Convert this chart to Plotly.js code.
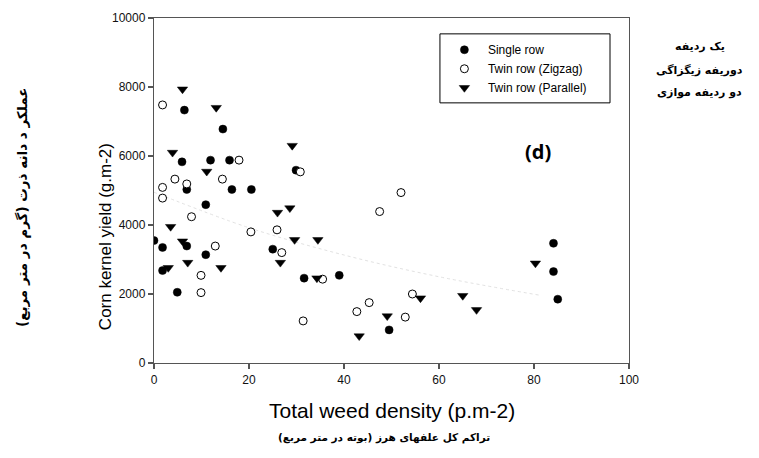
<!DOCTYPE html>
<html>
<head>
<meta charset="utf-8">
<script src="https://cdn.plot.ly/plotly-3.0.1.min.js"></script>
<style>html,body{margin:0;padding:0;background:#fff;}#chart{width:759px;height:458px;}</style>
</head>
<body>
<div id="chart"></div>
<script>
// Single row (filled circles)
const singleX = [0, 1.8, 1.8, 4.9, 5.9, 6.4, 6.9, 6.9, 10.9, 10.9, 11.9, 14.5, 15.9, 16.4, 20.5, 25.0, 29.9, 31.6, 39.0, 49.5, 84.1, 84.1, 85.0];
const singleY = [3550, 3350, 2680, 2050, 5830, 7330, 5030, 3390, 4590, 3140, 5880, 6780, 5880, 5030, 5030, 3300, 5590, 2460, 2540, 960, 3470, 2650, 1850];
// Twin row (Zigzag) (open circles)
const zigzagX = [1.8, 1.8, 1.8, 4.4, 6.9, 7.9, 9.9, 9.9, 12.9, 14.4, 17.9, 20.4, 25.9, 26.9, 30.8, 31.4, 35.5, 42.7, 45.3, 47.5, 52.0, 52.9, 54.4];
const zigzagY = [7480, 5090, 4780, 5330, 5190, 4240, 2540, 2040, 3390, 5330, 5880, 3800, 3860, 3200, 5540, 1220, 2430, 1490, 1750, 4390, 4940, 1330, 2000];
// Twin row (Parallel) (down triangles)
const parallelX = [6.0, 13.1, 3.9, 11.1, 29.1, 3.5, 6.0, 3.0, 7.1, 14.1, 26.0, 28.6, 26.6, 29.6, 34.3, 34.5, 43.2, 49.1, 56.1, 65.0, 67.9, 80.3];
const parallelY = [7935, 7400, 6100, 5550, 6300, 3950, 3530, 2760, 2910, 2760, 4360, 4490, 2910, 3570, 2460, 3570, 780, 1360, 1880, 1950, 1540, 2890];
// Faint trend line
const trendX = [0, 20, 40, 60, 81];
const trendY = [4950, 3920, 3130, 2500, 1970];

const seriesNames = ['Single row', 'Twin row (Zigzag)', 'Twin row (Parallel)'];
const xTicks = [0, 20, 40, 60, 80, 100];
const yTicks = [0, 2000, 4000, 6000, 8000, 10000];

const txtFont = 'Liberation Sans, Arial, sans-serif';
const faFont = 'DejaVu Sans, sans-serif';

const traces = [
  {x: trendX, y: trendY, mode: 'lines', type: 'scatter', showlegend: false, hoverinfo: 'skip',
   line: {color: '#e2e2e2', width: 1, dash: 'dot', shape: 'spline'}},
  {x: singleX, y: singleY, mode: 'markers', type: 'scatter', name: seriesNames[0],
   marker: {symbol: 'circle', size: 8, color: '#000', line: {color: '#000', width: 0.5}}},
  {x: zigzagX, y: zigzagY, mode: 'markers', type: 'scatter', name: seriesNames[1],
   marker: {symbol: 'circle', size: 8, color: '#fff', line: {color: '#000', width: 1}}},
  {x: parallelX, y: parallelY, mode: 'markers', type: 'scatter', name: seriesNames[2],
   marker: {symbol: 'triangle-down', size: 9, color: '#000', line: {color: '#000', width: 0.5}}}
];

const axisCommon = {
  showgrid: false, zeroline: false, showline: true, mirror: true,
  linecolor: '#555', linewidth: 1.2, ticks: 'outside', ticklen: 5, tickcolor: '#555', tickwidth: 1.2,
  tickfont: {family: txtFont, size: 12, color: '#111'}
};

const layout = {
  width: 759, height: 458,
  margin: {l: 154, r: 130, t: 18, b: 95, pad: 0},
  paper_bgcolor: '#fff', plot_bgcolor: '#fff',
  showlegend: true,
  legend: {x: 0.604, y: 0.95, xanchor: 'left', yanchor: 'top', bgcolor: 'rgba(0,0,0,0)',
    borderwidth: 0, itemwidth: 37, font: {family: txtFont, size: 12, color: '#000'}, tracegroupgap: 0},
  shapes: [
    {type: 'rect', xref: 'paper', yref: 'paper', x0: 0.602, x1: 0.96, y0: 0.754, y1: 0.954,
     line: {color: '#000', width: 1}, fillcolor: '#fff', layer: 'below'}
  ],
  xaxis: Object.assign({}, axisCommon, {range: [0, 100], tickvals: xTicks, ticktext: xTicks.map(String)}),
  yaxis: Object.assign({}, axisCommon, {range: [0, 10000], tickvals: yTicks, ticktext: yTicks.map(String)}),
  annotations: [
    {text: 'Total weed density (p.m-2)', xref: 'paper', yref: 'paper', x: 0.5, y: -0.139,
     xanchor: 'center', yanchor: 'middle', showarrow: false, font: {family: txtFont, size: 21, color: '#000'}},
    {text: 'Corn kernel yield (g.m-2)', xref: 'paper', yref: 'paper', x: -0.103, y: 0.365,
     xanchor: 'center', yanchor: 'middle', textangle: -90, showarrow: false, font: {family: txtFont, size: 17, color: '#000'}},
    {text: '<b>(d)</b>', xref: 'paper', yref: 'paper', x: 0.808, y: 0.612,
     xanchor: 'center', yanchor: 'middle', showarrow: false, font: {family: 'Open Sans, sans-serif', size: 20, color: '#000'}},
    {text: '<b>تراکم کل علفهای هرز (بوته در متر مربع)</b>', xref: 'paper', yref: 'paper', x: 0.484, y: -0.217,
     xanchor: 'center', yanchor: 'middle', showarrow: false, font: {family: faFont, size: 10.5, color: '#000'}},
    {text: '<b>عملکر د دانه ذرت (گرم در متر مربع)</b>', xref: 'paper', yref: 'paper', x: -0.278, y: 0.452,
     xanchor: 'center', yanchor: 'middle', textangle: -90, showarrow: false, font: {family: faFont, size: 13.5, color: '#000'}},
    {text: '<b>یک ردیفه</b>', xref: 'paper', yref: 'paper', x: 1.149, y: 0.916,
     xanchor: 'center', yanchor: 'middle', showarrow: false, font: {family: faFont, size: 11, color: '#000'}},
    {text: '<b>دوریفه زیگزاگی</b>', xref: 'paper', yref: 'paper', x: 1.149, y: 0.849,
     xanchor: 'center', yanchor: 'middle', showarrow: false, font: {family: faFont, size: 11, color: '#000'}},
    {text: '<b>دو ردیفه موازی</b>', xref: 'paper', yref: 'paper', x: 1.149, y: 0.783,
     xanchor: 'center', yanchor: 'middle', showarrow: false, font: {family: faFont, size: 11, color: '#000'}}
  ]
};

Plotly.newPlot('chart', traces, layout, {displayModeBar: false, staticPlot: true});
</script>
</body>
</html>
